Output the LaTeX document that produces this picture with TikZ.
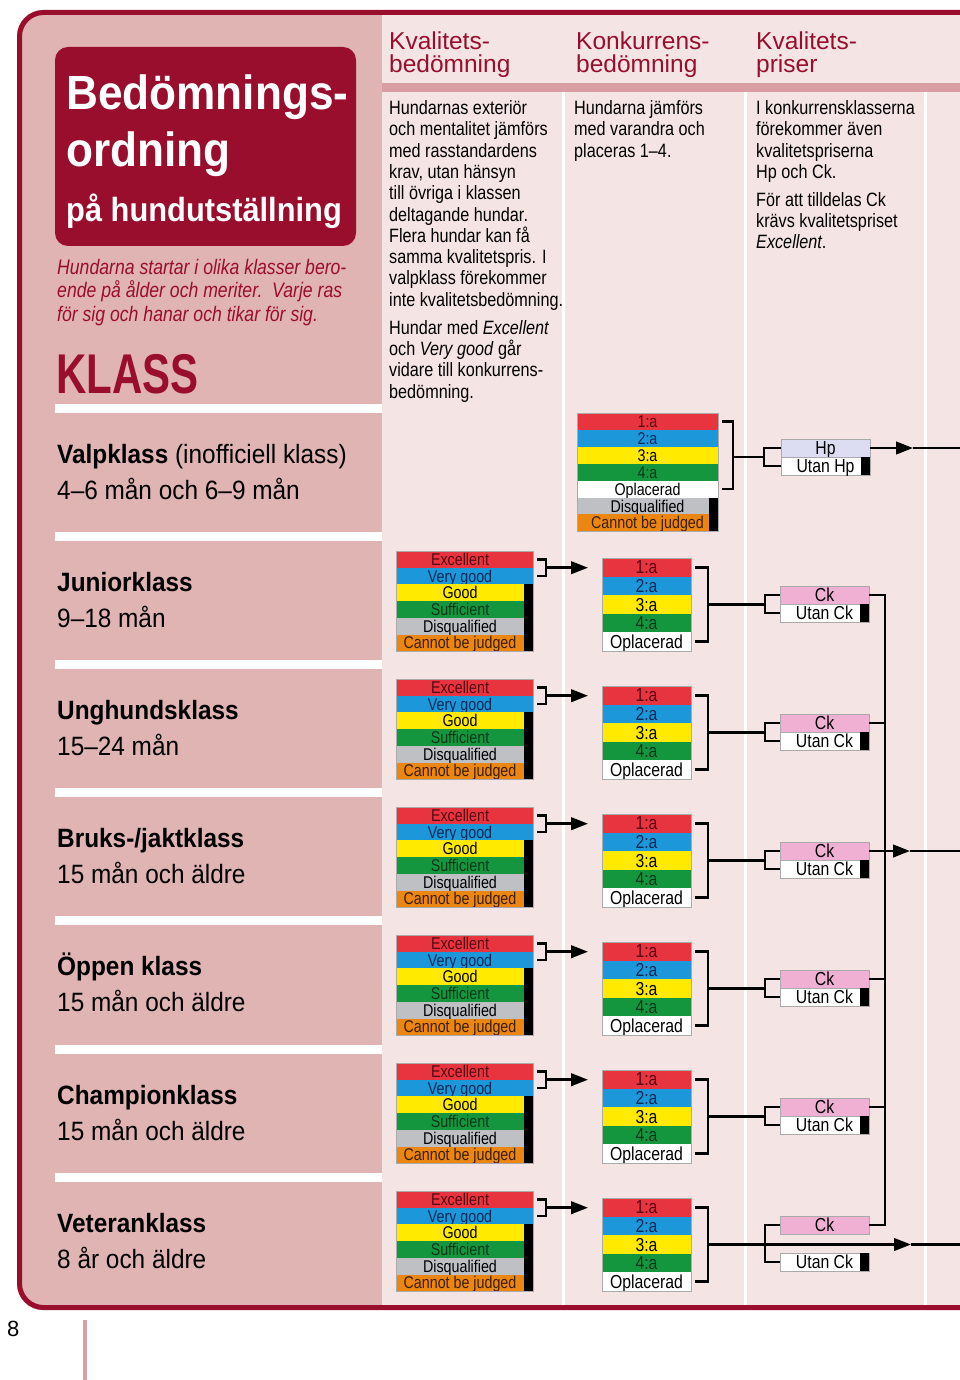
\documentclass[tikz,border=0pt]{standalone}
\usepackage{fontspec}
\setmainfont{Liberation Sans}
\newfontfamily\cnd{Liberation Sans}[FakeStretch=0.84]
\newfontfamily\cndb{Liberation Sans}[FakeStretch=0.92]
\newfontfamily\cndk{Liberation Sans}[FakeStretch=0.75]
\usetikzlibrary{arrows.meta,calc}

\definecolor{dred}{RGB}{152,14,44}
\definecolor{leftbg}{RGB}{225,180,180}
\definecolor{rightbg}{RGB}{245,228,228}
\definecolor{hdrstrip}{RGB}{216,158,162}
\definecolor{pinkbar}{RGB}{214,160,164}
\definecolor{cred}{RGB}{232,52,62}
\definecolor{cblue}{RGB}{28,152,218}
\definecolor{cyel}{RGB}{255,234,0}
\definecolor{cgreen}{RGB}{20,150,62}
\definecolor{cgrey}{RGB}{190,192,196}
\definecolor{corange}{RGB}{236,134,18}
\definecolor{cpink}{RGB}{240,176,212}
\definecolor{clav}{RGB}{220,220,242}
\definecolor{boxline}{RGB}{170,170,170}
\definecolor{tred}{RGB}{85,10,20}
\definecolor{tblue}{RGB}{10,40,85}
\definecolor{tgreen}{RGB}{10,55,25}
\definecolor{torange}{RGB}{60,30,0}

\tikzset{
  conn/.style={line width=2.6pt},
  arr/.style={-{Triangle[length=17pt,width=12.5pt]}},
  cell/.style={anchor=north west, inner sep=0pt, outer sep=0pt},
  qcell/.style={cell, minimum width=137pt, minimum height=16.7pt, text height=14.45pt, text depth=2.25pt, font=\cnd\fontsize{17}{17}\selectfont},
  ccell/.style={cell, minimum width=89pt, minimum height=18.6pt, text height=15.9pt, text depth=2.7pt, font=\cnd\fontsize{18.8}{18.8}\selectfont},
  vcell/.style={cell, minimum width=141pt, minimum height=16.9pt, text height=14.5pt, text depth=2.4pt, font=\cnd\fontsize{17}{17}\selectfont},
  pcell/.style={cell, draw=boxline, line width=0.5pt, minimum width=89pt, minimum height=18pt, text height=15.6pt, text depth=2.4pt, font=\cnd\fontsize{18.8}{18.8}\selectfont},
  stack/.style={draw=boxline, line width=0.5pt},
  hdrtxt/.style={anchor=north west, inner sep=0pt, align=left, text=dred, font=\fontsize{24.5}{22.5}\selectfont},
  bodytxt/.style={anchor=north west, inner sep=0pt, align=left, font=\cnd\fontsize{19.3}{21.3}\selectfont},
  clname/.style={anchor=base west, inner sep=0pt, font=\cndb\fontsize{26.5}{26.5}\selectfont},
}

\begin{document}
\begin{tikzpicture}[x=1pt,y=-1pt]
    \useasboundingbox (0,0) rectangle (960,1380);
    \clip (0,0) rectangle (960,1380);

    \begin{scope}
        \clip[rounded corners=26pt] (17,10) rectangle (1000,1310);
        \fill[rightbg] (17,10) rectangle (1000,1310);
        \fill[leftbg] (17,10) rectangle (382,1310);
        \fill[hdrstrip] (382,83) rectangle (1000,92);
        \foreach \x in {561.5,743.5,923.5}
            \fill[white] (\x,92) rectangle ++(3,1220);
        \foreach \cls in {0,...,6}
            \fill[white] (55,{408+128.2*\cls-4.5}) rectangle (382,{408+128.2*\cls+4.5});
    \end{scope}
    \draw[dred, line width=5pt, rounded corners=24pt] (19.5,12.5) rectangle (1000,1307.5);

    \node[cell, fill=dred, rounded corners=13pt, minimum width=301pt, minimum height=199pt] (titlebox) at (55,47) {};
    \node[anchor=base west, inner sep=0pt, text=white, font=\cndb\bfseries\fontsize{48}{48}\selectfont] (title1) at (66,110) {Bedömnings-};
    \node[anchor=base west, inner sep=0pt, text=white, font=\cndb\bfseries\fontsize{48}{48}\selectfont] (title2) at (66,167) {ordning};
    \node[anchor=base west, inner sep=0pt, text=white, font=\cndb\bfseries\fontsize{33.5}{33.5}\selectfont] (title3) at (66,222) {på hundutställning};

    \node[anchor=north west, inner sep=0pt, align=left, text=dred, font=\cnd\itshape\fontsize{21}{23.5}\selectfont] (intro) at (57,259)
        {Hundarna startar i olika klasser bero-\\ende på ålder och meriter.\ \ Varje ras\\för sig och hanar och tikar för sig.};
    \node[anchor=base west, inner sep=0pt, text=dred, font=\cndk\bfseries\fontsize{56}{56}\selectfont] (klass) at (56,393) {KLASS};

    \node[hdrtxt] (head1) at (389,32) {Kvalitets-\\bedömning};
    \node[hdrtxt] (head2) at (576,32) {Konkurrens-\\bedömning};
    \node[hdrtxt] (head3) at (756,32) {Kvalitets-\\priser};

    \node[bodytxt] (text1) at (389,100.4)
        {Hundarnas exteriör\\och mentalitet jämförs\\med rasstandardens\\krav, utan hänsyn\\till övriga i klassen\\deltagande hundar.\\Flera hundar kan få\\samma kvalitetspris. I\\valpklass förekommer\\inte kvalitetsbedömning.\\[6.6pt]Hundar med \textit{Excellent}\\och \textit{Very good} går\\vidare till konkurrens-\\bedömning.};
    \node[bodytxt] (text2) at (574,100.4)
        {Hundarna jämförs\\med varandra och\\placeras 1–4.};
    \node[bodytxt] (text3) at (756,100.4)
        {I konkurrensklasserna\\förekommer även\\kvalitetspriserna\\Hp och Ck.\\[6.6pt]För att tilldelas Ck\\krävs kvalitetspriset\\\textit{Excellent}.};

    \foreach \nm/\ag [count=\cls from 0] in {\textbf{Valpklass} (inofficiell klass)/4–6 mån och 6–9 mån,
        \textbf{Juniorklass}/9–18 mån, \textbf{Unghundsklass}/15–24 mån, {\textbf{Bruks-/jaktklass}}/15 mån och äldre,
        \textbf{Öppen klass}/15 mån och äldre, \textbf{Championklass}/15 mån och äldre, \textbf{Veteranklass}/8 år och äldre} {
        \node[clname] (cn\cls) at (57,{408+128.2*\cls+55}) {\nm};
        \node[clname] (ca\cls) at (57,{408+128.2*\cls+91}) {\ag};
    }

    \foreach \lab/\fc/\tc [count=\k] in {1:a/cred/tred,2:a/cblue/tblue,3:a/cyel/black,4:a/cgreen/tgreen,Oplacerad/white/black,Disqualified/cgrey/black,Cannot be judged/corange/torange}
        \node[vcell, fill=\fc, text=\tc] (c0-\k) at (577,{413+16.9*(\k-1)}) {\lab};
    \fill ([xshift=-9pt]c0-6.north east) rectangle (c0-7.south east);
    \draw[stack] (c0-1.north west) rectangle (c0-7.south east);
    \node[pcell, fill=clav] (hp) at (781,439) {Hp};
    \node[pcell, fill=white] (utanhp) at (781,457) {Utan Hp};
    \fill ([xshift=-9pt]utanhp.north east) rectangle (utanhp.south east);
    \draw[conn] ([xshift=4pt]c0-1.east) -- ++(11,0) |- ([xshift=4pt]c0-5.east);
    \draw[conn] (hp.west) -- ++(-17,0) |- (utanhp.west);
    \coordinate (cbx0) at ([xshift=15pt]c0-1.east);
    \coordinate (sb0) at ($(hp.west)!0.5!(utanhp.west)+(-17,0)$);
    \draw[conn] (sb0) -- (sb0 -| cbx0);
    \draw[conn,arr] (hp.east) -- ++(43,0) coordinate (tip0);
    \draw[conn] (tip0) -- ++(60,0) coordinate (edge0);

    \foreach \rw in {1,...,6} {
        \pgfmathsetmacro{\qt}{551+128*(\rw-1)}
        \pgfmathsetmacro{\ct}{\qt+7}
        \pgfmathsetmacro{\ckoff}{(\rw==6) ? 18 : 28}
        \pgfmathsetmacro{\utoff}{(\rw==6) ? 55 : 46}
        \foreach \lab/\fc/\tc [count=\k] in {Excellent/cred/tred,Very good/cblue/tblue,Good/cyel/black,Sufficient/cgreen/tgreen,Disqualified/cgrey/black,Cannot be judged/corange/torange}
            \node[qcell, fill=\fc, text=\tc] (q\rw-\k) at (396,{\qt+16.7*(\k-1)}) {\makebox[128pt]{\lab}\hspace*{9pt}};
        \fill ([xshift=-9pt]q\rw-3.north east) rectangle (q\rw-6.south east);
        \draw[stack] (q\rw-1.north west) rectangle (q\rw-6.south east);

        \foreach \lab/\fc/\tc [count=\k] in {1:a/cred/tred,2:a/cblue/tblue,3:a/cyel/black,4:a/cgreen/tgreen,Oplacerad/white/black}
            \node[ccell, fill=\fc, text=\tc] (c\rw-\k) at (602,{\ct+18.6*(\k-1)}) {\lab};
        \draw[stack] (c\rw-1.north west) rectangle (c\rw-5.south east);

        \node[pcell, fill=cpink] (ck\rw) at (780,{\ct+\ckoff}) {Ck};
        \node[pcell, fill=white] (utan\rw) at (780,{\ct+\utoff}) {Utan Ck};
        \fill ([xshift=-9pt]utan\rw.north east) rectangle (utan\rw.south east);

        \draw[conn] ([xshift=4pt]q\rw-1.east) -- ++(9,0) |- ([xshift=4pt]q\rw-2.east);
        \coordinate (qb\rw) at ($([xshift=13pt]q\rw-1.east)!0.5!([xshift=13pt]q\rw-2.east)$);
        \draw[conn,arr,shorten >=14pt] (qb\rw) -- (qb\rw -| c\rw-1.west);

        \draw[conn] ([xshift=4pt]c\rw-1.east) -- ++(13,0) |- ([xshift=4pt]c\rw-5.east);
        \coordinate (cb\rw) at ($([xshift=17pt]c\rw-1.east)!0.5!([xshift=17pt]c\rw-5.east)$);
        \draw[conn] (ck\rw.west) -- ++(-15,0) coordinate (sb\rw) |- (utan\rw.west);
        \draw[conn] (cb\rw) -- (cb\rw -| sb\rw);
    }

    \draw[conn] (ck1.east) -- ++(16,0) coordinate (vtop) -- (vtop |- ck6.east) -- (ck6.east);
    \foreach \rw in {2,4,5}
        \draw[conn] (ck\rw.east) -- (ck\rw.east -| vtop);
    \draw[conn,arr] (ck3.east) -- ++(41,0) coordinate (tip3);
    \draw[conn] (tip3) -- ++(60,0) coordinate (edge3);
    \draw[conn,arr] (cb6) -- ++(203,0) coordinate (tip6);
    \draw[conn] (tip6) -- ++(60,0) coordinate (edge6);

    \node[anchor=base west, inner sep=0pt, font=\fontsize{22}{22}\selectfont] (page) at (7,1336) {8};
    \fill[pinkbar] (82.5,1320) rectangle (87,1380);
\end{tikzpicture}
\end{document}
